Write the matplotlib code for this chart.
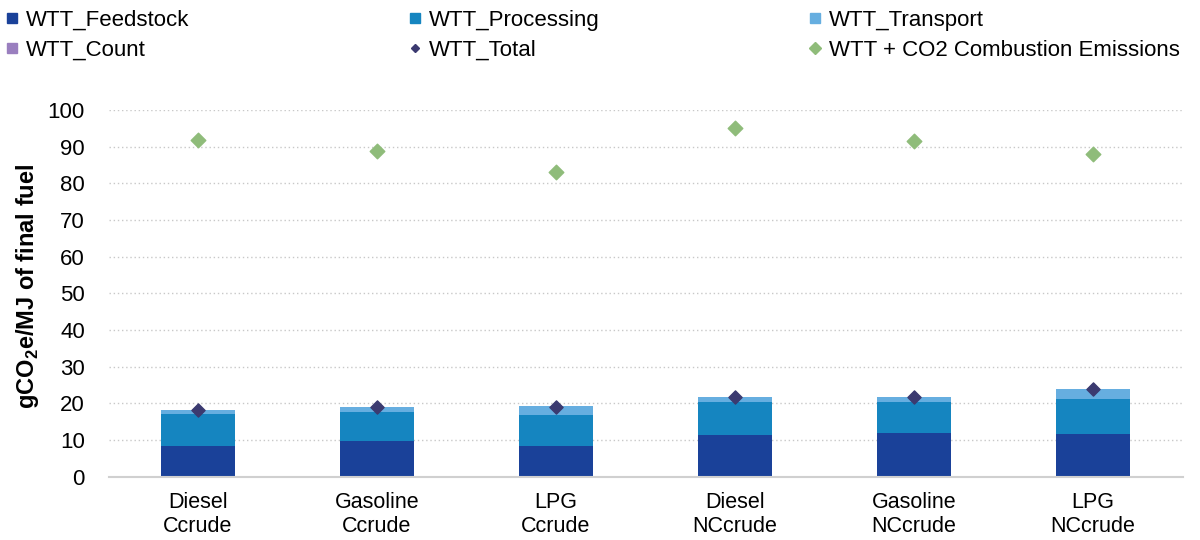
import matplotlib
matplotlib.use("Agg")
import matplotlib.pyplot as plt
import numpy as np
from matplotlib.lines import Line2D

plt.rcParams['font.family'] = ['Liberation Sans', 'DejaVu Sans']
plt.rcParams['mathtext.fontset'] = 'custom'
plt.rcParams['mathtext.rm'] = 'Liberation Sans'
plt.rcParams['mathtext.bf'] = 'Liberation Sans:bold'

categories = ["Diesel\nCcrude", "Gasoline\nCcrude", "LPG\nCcrude",
              "Diesel\nNCcrude", "Gasoline\nNCcrude", "LPG\nNCcrude"]
feedstock = [8.4, 9.6, 8.3, 11.3, 11.9, 11.6]
processing = [8.7, 8.0, 8.4, 9.1, 8.5, 9.7]
transport = [1.1, 1.3, 2.6, 1.2, 1.2, 2.7]
count = [0, 0, 0, 0, 0, 0]
wtt_total = [18.2, 18.9, 19.1, 21.6, 21.6, 24.0]
wtt_combustion = [91.8, 88.8, 83.0, 95.1, 91.5, 88.0]

c_feed = "#1a4199"
c_proc = "#1585c0"
c_trans = "#66aee0"
c_count = "#9a7fbf"
c_total = "#3b3a70"
c_green = "#8fbc7a"

fig = plt.figure(figsize=(12, 5.4), dpi=100)
ax = fig.add_axes([108.5/1200, 1 - 476.7/540, (1182.5-108.5)/1200, (476.7-110)/540])

x = np.arange(len(categories))
w = 0.41
f = np.array(feedstock); p = np.array(processing); t = np.array(transport); c = np.array(count)
ax.bar(x, f, w, color=c_feed, zorder=2)
ax.bar(x, p, w, bottom=f, color=c_proc, zorder=2)
ax.bar(x, t, w, bottom=f+p, color=c_trans, zorder=2)
ax.bar(x, c, w, bottom=f+p+t, color=c_count, zorder=2)
ax.scatter(x, wtt_total, marker='D', s=45, color=c_total, zorder=3)
ax.scatter(x, wtt_combustion, marker='D', s=55, color=c_green, zorder=3)

ax.set_xlim(-0.5, len(categories)-0.5)
ax.set_ylim(0, 100)
ax.set_yticks(np.arange(0, 101, 10))
ax.set_xticks(x)
ax.set_xticklabels(categories, fontsize=15.5)
ax.tick_params(axis='y', labelsize=16, length=0, pad=17)
ax.tick_params(axis='x', length=0, pad=11)
ax.yaxis.grid(True, linestyle=(0, (1, 2)), color='#c8c8c8', linewidth=1, zorder=0)
for s in ['top', 'right', 'left']:
    ax.spines[s].set_visible(False)
ax.spines['bottom'].set_color('#d0d0d0')
ax.spines['bottom'].set_linewidth(1.5)
ax.set_ylabel(r"gCO$_\mathbf{2}$e/MJ of final fuel", fontsize=17, fontweight='bold')
ax.yaxis.set_label_coords(-0.063, 0.52)

def sq(col):
    return Line2D([], [], marker='s', color=col, linestyle='none', markersize=7)

groups = [
    ([sq(c_feed), sq(c_count)], ["WTT_Feedstock", "WTT_Count"], 0.0),
    ([sq(c_proc), Line2D([], [], marker='D', color=c_total, linestyle='none', markersize=4.5)],
     ["WTT_Processing", "WTT_Total"], 403/1200),
    ([sq(c_trans), Line2D([], [], marker='D', color=c_green, linestyle='none', markersize=6)],
     ["WTT_Transport", "WTT + CO2 Combustion Emissions"], 803/1200),
]
for hs, ls, xpos in groups:
    fig.legend(hs, ls, loc='upper left', bbox_to_anchor=(xpos, 1.0 - 3/540), frameon=False,
               fontsize=16, handlelength=0.5, handletextpad=0.35, labelspacing=0.42,
               borderaxespad=0.0, borderpad=0.3)

fig.savefig("out.png", dpi=100)
